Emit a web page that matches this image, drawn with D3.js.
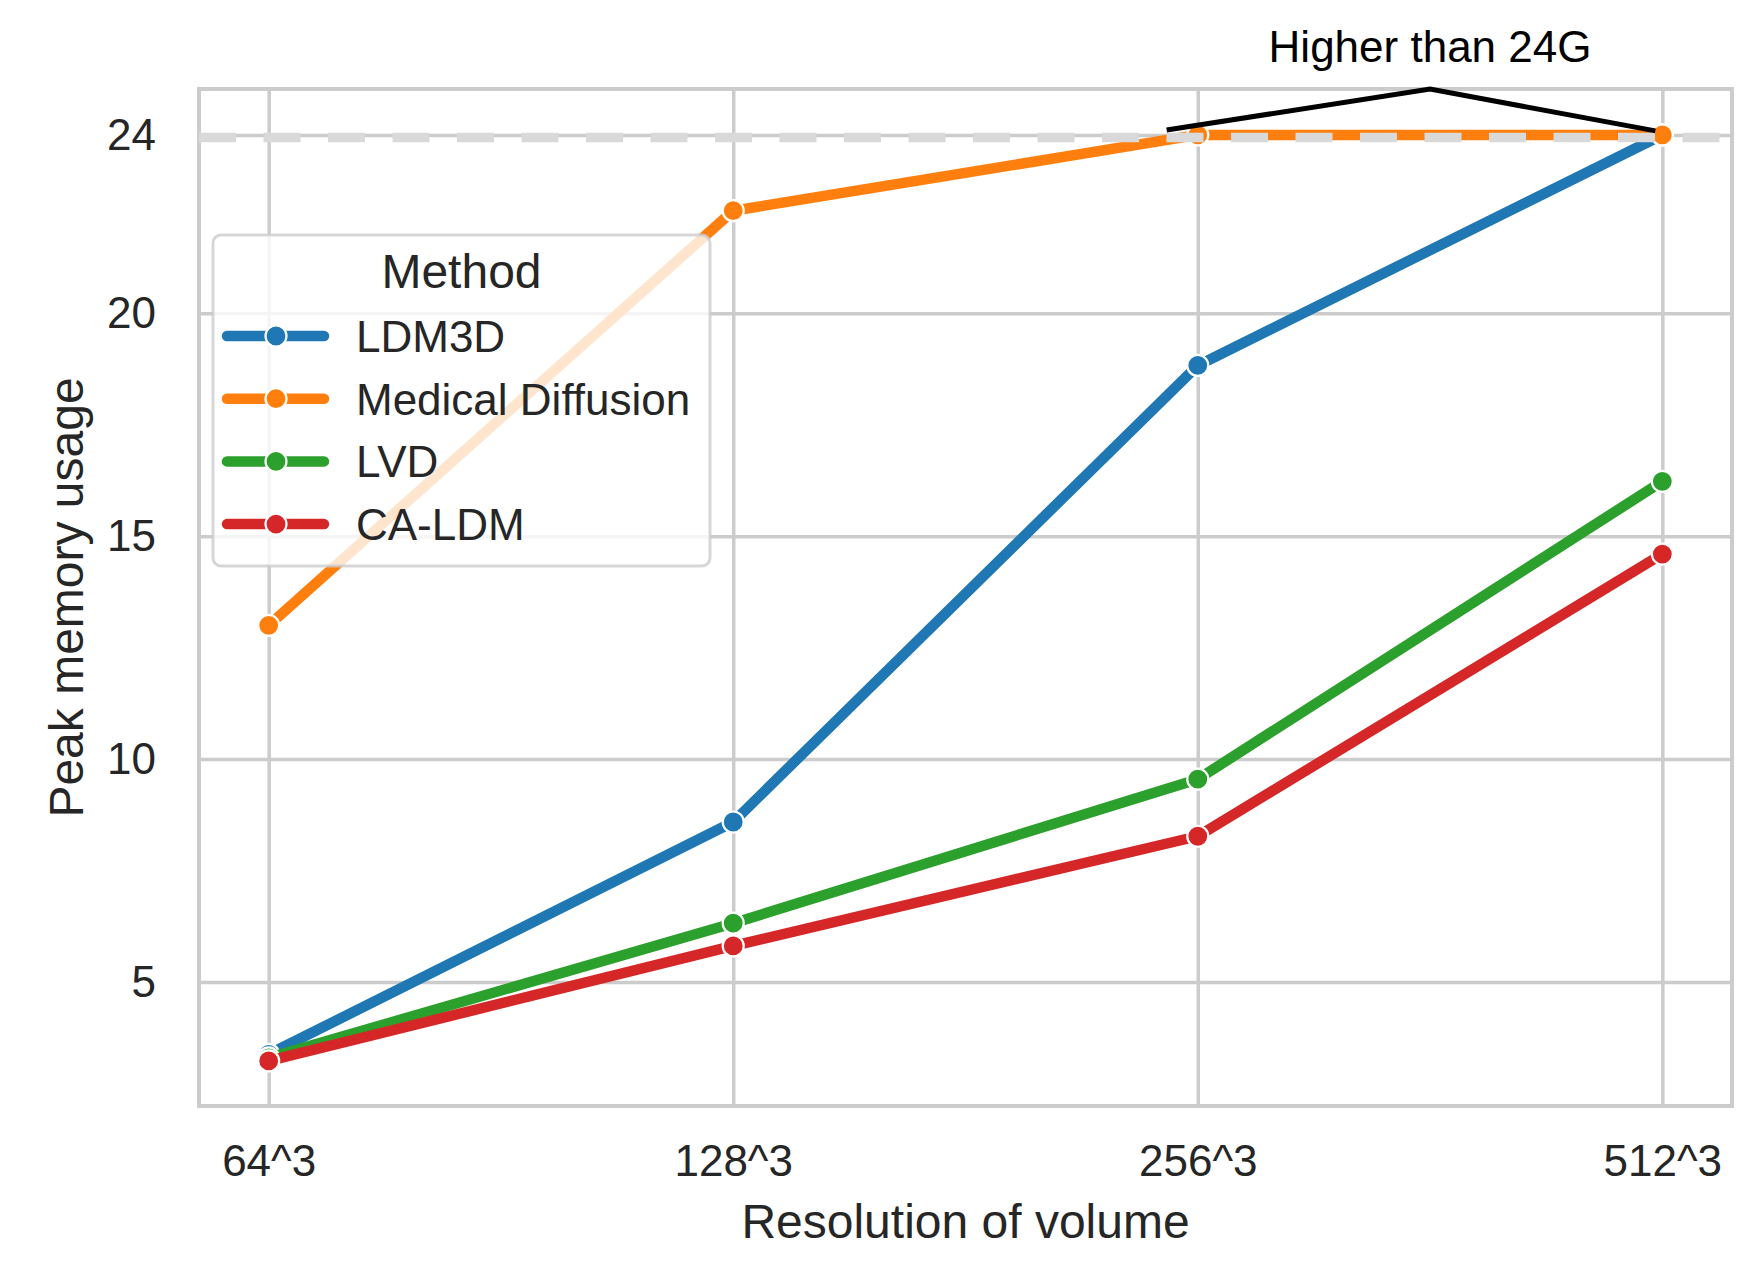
<!DOCTYPE html>
<html>
<head>
<meta charset="utf-8">
<script src="https://cdn.jsdelivr.net/npm/d3@7"></script>
<style>
    body { margin: 0; background: #ffffff; }
    svg { display: block; font-family: "Liberation Sans", Arial, sans-serif; }
</style>
</head>
<body>
<svg width="1764" height="1280"></svg>
<script>
// categories on OX
const categories = ["64^3", "128^3", "256^3", "512^3"];
// methods (legend order)
const methods = ["LDM3D", "Medical Diffusion", "LVD", "CA-LDM"];
// peak memory usage, GB
const ldm3d = [3.38, 8.59, 18.83, 24];
const medicalDiffusion = [13.0, 22.3, 24, 24];
const lvd = [3.3, 6.32, 9.55, 16.23];
const caLdm = [3.23, 5.81, 8.27, 14.6];
// tick labels on OY
const yTicks = [5, 10, 15, 20, 24];
const colors = ["#1f77b4", "#ff7f0e", "#2ca02c", "#d62728"];

const limit = 23.94;           // dashed "24G" line
const yDomain = [2.22, 25.03];

function drawGraph() {
    const svg = d3.select("svg");
    const seriesValues = [ldm3d, medicalDiffusion, lvd, caLdm];
    const series = methods.map((m, i) => ({
        name: m, color: colors[i],
        values: categories.map((c, j) => ({ cat: c, v: seriesValues[i][j] }))
    }));

    // plot area
    const area = { left: 199, right: 1732, top: 89, bottom: 1106 };
    const plotW = area.right - area.left;
    const plotH = area.bottom - area.top;

    const scX = d3.scalePoint().domain(categories).range([area.left, area.right]).padding(0.15);
    const scY = d3.scaleLinear().domain(yDomain).range([area.bottom, area.top]);
    // position between categories (fractional index)
    const xAt = i => scX(categories[0]) + i * scX.step();

    // axes with grid
    const gx = svg.append("g")
        .attr("transform", `translate(0, ${area.bottom})`)
        .call(d3.axisBottom(scX).tickSize(-plotH).tickPadding(39));
    const gy = svg.append("g")
        .attr("transform", `translate(${area.left}, 0)`)
        .call(d3.axisLeft(scY).tickValues(yTicks).tickSize(-plotW).tickPadding(43));
    [gx, gy].forEach(g => {
        g.select(".domain").remove();
        g.selectAll("line").attr("stroke", "#cccccc").attr("stroke-width", 3.5);
        g.selectAll("text").attr("fill", "#262626").style("font-size", "44px")
            .style("font-family", "'Liberation Sans', Arial, sans-serif");
    });

    // frame
    svg.append("rect")
        .attr("x", area.left).attr("y", area.top)
        .attr("width", plotW).attr("height", plotH)
        .attr("fill", "none").attr("stroke", "#cccccc").attr("stroke-width", 4);

    // lines + markers
    const line = d3.line().x(d => scX(d.cat)).y(d => scY(d.v));
    series.forEach(s => {
        svg.append("path")
            .datum(s.values)
            .attr("d", line)
            .attr("fill", "none")
            .attr("stroke", s.color)
            .attr("stroke-width", 10.5)
            .attr("stroke-linejoin", "round")
            .attr("stroke-linecap", "round");
        svg.selectAll(null)
            .data(s.values)
            .enter()
            .append("circle")
            .attr("cx", d => scX(d.cat))
            .attr("cy", d => scY(d.v))
            .attr("r", 10.5)
            .attr("fill", s.color)
            .attr("stroke", "#ffffff")
            .attr("stroke-width", 2.2);
    });

    // 24G limit
    svg.append("line")
        .attr("x1", area.left).attr("x2", area.right)
        .attr("y1", scY(limit)).attr("y2", scY(limit))
        .attr("stroke", "#d9d9d9")
        .attr("stroke-width", 9.5)
        .attr("stroke-dasharray", "37,27.5");

    // annotation
    const annot = [[1.933, 24.11], [2.5, yDomain[1]], [2.985, 24.09]];
    svg.append("path")
        .attr("d", d3.line()(annot.map(p => [xAt(p[0]), scY(p[1])])))
        .attr("fill", "none")
        .attr("stroke", "#000000")
        .attr("stroke-width", 5);
    svg.append("text")
        .attr("x", xAt(2.5))
        .attr("y", scY(25.64))
        .attr("text-anchor", "middle")
        .style("font-size", "44px")
        .attr("fill", "#000000")
        .text("Higher than 24G");

    // axis titles
    svg.append("text")
        .attr("x", (area.left + area.right) / 2)
        .attr("y", 1238)
        .attr("text-anchor", "middle")
        .style("font-size", "48px")
        .attr("fill", "#262626")
        .text("Resolution of volume");
    svg.append("text")
        .attr("transform", `translate(83, ${(area.top + area.bottom) / 2}) rotate(-90)`)
        .attr("text-anchor", "middle")
        .style("font-size", "48px")
        .attr("fill", "#262626")
        .text("Peak memory usage");

    // legend
    const lg = svg.append("g").attr("transform", "translate(213, 235)");
    lg.append("rect")
        .attr("width", 497).attr("height", 331)
        .attr("rx", 8)
        .attr("fill", "#ffffff").attr("fill-opacity", 0.8)
        .attr("stroke", "#cccccc").attr("stroke-opacity", 0.8)
        .attr("stroke-width", 3);
    lg.append("text")
        .attr("x", 248.5).attr("y", 53)
        .attr("text-anchor", "middle")
        .style("font-size", "48px")
        .attr("fill", "#262626")
        .text("Method");
    const items = lg.selectAll(".item")
        .data(series)
        .enter()
        .append("g")
        .attr("transform", (d, i) => `translate(0, ${101 + i * 62.7})`);
    items.append("line")
        .attr("x1", 14).attr("x2", 111)
        .attr("stroke", d => d.color)
        .attr("stroke-width", 10.5)
        .attr("stroke-linecap", "round");
    items.append("circle")
        .attr("cx", 63).attr("r", 10.5)
        .attr("fill", d => d.color)
        .attr("stroke", "#ffffff").attr("stroke-width", 2.2);
    items.append("text")
        .attr("x", 143).attr("y", 16)
        .style("font-size", "44px")
        .attr("fill", "#262626")
        .text(d => d.name);
}

drawGraph();
</script>
</body>
</html>
